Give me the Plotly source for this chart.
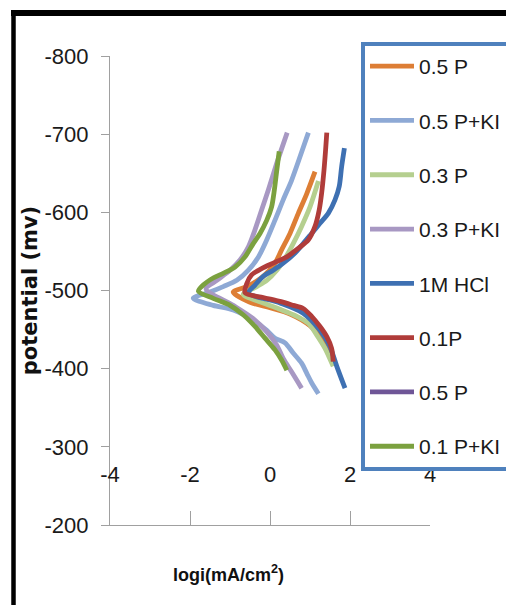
import plotly.graph_objects as go

# ---- data ----
series_names = ["0.5 P", "0.5 P+KI", "0.3 P", "0.3 P+KI", "1M HCl", "0.1P", "0.5 P", "0.1 P+KI"]
series_colors = ["#DD7E35", "#8EA9D5", "#B5CF8F", "#A898C3", "#3E70B2", "#B03C3A", "#6F5697", "#7BA13F"]

logi_05P = [1.125, 0.92, 0.71, 0.5, 0.29, 0.125, -0.17, -0.58, -0.92, -0.5, 0.0, 0.5, 1.0, 1.25, 1.45, 1.55]
pot_05P = [-652, -624, -599, -573, -552, -535, -518, -505, -498, -485, -478, -470, -455, -440, -422, -415]

logi_05PKI = [0.96, 0.75, 0.54, 0.33, 0.125, -0.08, -0.29, -0.54, -0.83, -1.17, -1.5, -1.92,
              -1.42, -0.92, -0.42, -0.08, 0.125, 0.375, 0.58, 0.79, 0.92, 1.04, 1.21]
pot_05PKI = [-702, -671, -641, -616, -590, -565, -543, -526, -513, -505, -498, -490,
             -481, -475, -462, -449, -439, -433, -420, -407, -394, -382, -368]

logi_03P = [1.21, 1.0, 0.79, 0.58, 0.375, 0.17, -0.08, -0.33, -0.67, -0.17, 0.25, 0.67, 0.96, 1.17, 1.375, 1.58]
pot_03P = [-640, -607, -582, -560, -541, -526, -513, -505, -495, -484, -476, -467, -458, -443, -426, -403]

logi_03PKI = [0.43, 0.17, -0.04, -0.21, -0.38, -0.54, -0.75, -1.0, -1.33, -1.6,
              -0.92, -0.42, -0.08, 0.17, 0.33, 0.54, 0.79]
pot_03PKI = [-702, -663, -629, -603, -577, -556, -539, -526, -513, -502,
             -481, -464, -447, -430, -413, -396, -375]

logi_HCl = [1.86, 1.79, 1.73, 1.625, 1.46, 1.25, 1.04, 0.83, 0.625, 0.33, 0.08, -0.17, -0.375, -0.54,
            0.25, 0.83, 1.25, 1.5, 1.67, 1.875]
pot_HCl = [-682, -658, -633, -616, -599, -586, -573, -560, -548, -535, -526, -518, -507, -497,
           -484, -471, -449, -428, -403, -375]

logi_01P = [1.42, 1.39, 1.35, 1.29, 1.23, 1.125, 0.96, 0.71, 0.42, 0.08, -0.21, -0.46, -0.58, -0.625,
            -0.17, 0.25, 0.58, 0.83, 1.04, 1.25, 1.42, 1.54, 1.58]
pot_01P = [-702, -680, -654, -624, -603, -582, -565, -554, -543, -535, -528, -520, -509, -497,
           -491, -486, -481, -477, -467, -454, -441, -426, -409]

# second "0.5 P" series: listed in the legend, no visible points in the chart
logi_05P_b = [None]
pot_05P_b = [None]

logi_01PKI = [0.23, 0.17, 0.11, 0.04, -0.08, -0.25, -0.42, -0.625, -0.875, -1.17, -1.42, -1.67, -1.79,
              -1.42, -1.0, -0.67, -0.375, -0.125, 0.125, 0.29, 0.42]
pot_01PKI = [-678, -654, -629, -607, -590, -573, -560, -543, -530, -522, -516, -507, -499,
             -490, -481, -469, -454, -439, -424, -411, -398]

series_x = [logi_05P, logi_05PKI, logi_03P, logi_03PKI, logi_HCl, logi_01P, logi_05P_b, logi_01PKI]
series_y = [pot_05P, pot_05PKI, pot_03P, pot_03PKI, pot_HCl, pot_01P, pot_05P_b, pot_01PKI]

x_ticks = [-4, -2, 0, 2, 4]
y_ticks = [-800, -700, -600, -500, -400, -300, -200]

# ---- layout geometry (page pixels; the page body adds an 8 px offset) ----
OFF = 8
W, H = 514 - OFF, 605 - OFF
PL, PR, PT, PB = 110, 430, 56, 525          # plot area in page pixels
ML, MR, MT, MB = PL - OFF, W - (PR - OFF), PT - OFF, H - (PB - OFF)
PW, PH = W - ML - MR, H - MT - MB


def px_x(p):
    return (p - OFF - ML) / PW


def px_y(p):
    return (H - MB - (p - OFF)) / PH


fig = go.Figure()
for i, (nm, col, xs, ys) in enumerate(zip(series_names, series_colors, series_x, series_y)):
    empty = all(v is None for v in xs)
    fig.add_trace(go.Scatter(
        x=xs, y=ys, mode="lines", name=nm,
        line=dict(color=col, width=4.8, shape="spline", smoothing=0.8),
        legendgroup=f"g{i}", showlegend=True,
        xaxis="x2" if empty else "x",
    ))

axis_gray = "#A0A0A0"
txt_family = "Liberation Sans, Arial, sans-serif"
tick_font = dict(family=txt_family, size=22, color="#1a1a1a")

fig.update_layout(
    width=W, height=H,
    margin=dict(l=ML, r=MR, t=MT, b=MB, autoexpand=False),
    paper_bgcolor="white", plot_bgcolor="white",
    showlegend=True,
    xaxis=dict(
        range=[-4, 4], tickvals=x_ticks, showticklabels=False,
        ticks="inside", ticklen=14, tickcolor=axis_gray, tickwidth=1,
        showline=True, linecolor=axis_gray, linewidth=1,
        showgrid=False, zeroline=False, fixedrange=True,
    ),
    xaxis2=dict(
        range=[-4, 4], tickvals=x_ticks, ticktext=[str(v) for v in x_ticks],
        overlaying="x", anchor="free", position=px_y(459), side="bottom",
        ticks="", showline=False, showgrid=False, zeroline=False,
        tickfont=tick_font, fixedrange=True,
    ),
    yaxis=dict(
        range=[-200, -800], tickvals=y_ticks, ticktext=[str(v) for v in y_ticks],
        ticks="outside", ticklen=8, tickcolor=axis_gray, tickwidth=1,
        showline=True, linecolor=axis_gray, linewidth=1,
        showgrid=False, zeroline=False, tickfont=tick_font,
        ticklabelstandoff=8, fixedrange=True,
        title=dict(text="potential (mv)",
                   font=dict(family="DejaVu Sans, sans-serif", size=21, color="#111111", weight="bold"),
                   standoff=1),
    ),
    legend=dict(
        x=px_x(361), y=px_y(42), xanchor="left", yanchor="top",
        bordercolor="#4F81BD", borderwidth=4, bgcolor="white",
        font=dict(family=txt_family, size=21, color="#1a1a1a"),
        traceorder="grouped", tracegroupgap=24, itemwidth=44, maxheight=560,
    ),
    annotations=[dict(
        text="<b>logi(mA/cm<sup>2</sup>)</b>", xref="paper", yref="paper",
        x=px_x(228), y=px_y(573), xanchor="center", yanchor="middle", showarrow=False,
        font=dict(family=txt_family, size=18, color="#111111"),
    )],
    shapes=[
        dict(type="line", xref="paper", yref="paper", x0=px_x(11), x1=px_x(514 + 4), y0=px_y(13), y1=px_y(13),
             line=dict(color="black", width=6)),
        dict(type="line", xref="paper", yref="paper", x0=px_x(13.5), x1=px_x(13.5), y0=px_y(10), y1=px_y(605 + 4),
             line=dict(color="black", width=4.5)),
    ],
)

fig.write_html("out.html")
